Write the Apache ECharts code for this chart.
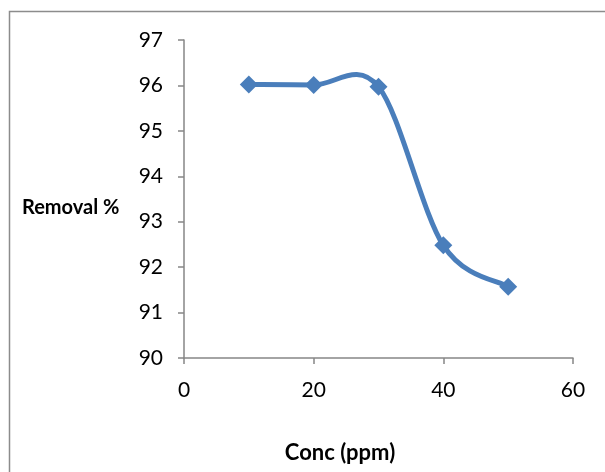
<!DOCTYPE html>
<html>
<head>
<meta charset="utf-8">
<script src="https://cdn.jsdelivr.net/npm/echarts@6/dist/echarts.min.js"></script>
<style>
  html, body { margin: 0; padding: 0; background: #fff; }
  #chart { width: 605px; height: 472px; }
</style>
</head>
<body>
<div id="chart"></div>
<script>
// Removal efficiency versus initial concentration
const concPpm = [10, 20, 30, 40, 50];
const removalPct = [96.02, 96.01, 95.97, 92.48, 91.57];

const xTicks = { min: 0, max: 60, interval: 20 };
const yTicks = { min: 90, max: 97, interval: 1 };

const axisColor = '#868686';
const seriesColor = '#4a7ebb';
const fontFamily = 'Lato, "Liberation Sans", sans-serif';

const chart = echarts.init(document.getElementById('chart'), null, { renderer: 'canvas' });

// Catmull-Rom style smoothing in pixel space: one cubic segment per data pair
function renderSegment(params, api) {
  const i = params.dataIndex;
  const n = concPpm.length;
  if (i >= n - 1) return null;
  const pt = k => {
    const j = Math.max(0, Math.min(n - 1, k));
    return api.coord([concPpm[j], removalPct[j]]);
  };
  const p0 = pt(i - 1), p1 = pt(i), p2 = pt(i + 1), p3 = pt(i + 2);
  const c1 = [p1[0] + (p2[0] - p0[0]) / 6, p1[1] + (p2[1] - p0[1]) / 6];
  const c2 = [p2[0] - (p3[0] - p1[0]) / 6, p2[1] - (p3[1] - p1[1]) / 6];
  return {
    type: 'bezierCurve',
    shape: { x1: p1[0], y1: p1[1], cpx1: c1[0], cpy1: c1[1], cpx2: c2[0], cpy2: c2[1], x2: p2[0], y2: p2[1] },
    style: { stroke: seriesColor, lineWidth: 5, fill: null, lineCap: 'round' }
  };
}

const points = concPpm.map((c, i) => [c, removalPct[i]]);

chart.setOption({
  backgroundColor: '#fff',
  animation: false,
  grid: { left: 184, right: 32, top: 40, bottom: 114, containLabel: false },
  xAxis: {
    type: 'value',
    min: xTicks.min, max: xTicks.max, interval: xTicks.interval,
    axisLine: { lineStyle: { color: axisColor, width: 1.5 } },
    axisTick: { show: true, length: 6, lineStyle: { color: axisColor, width: 1.5 } },
    axisLabel: { fontFamily, fontSize: 21, color: '#000', margin: 22 },
    splitLine: { show: false }
  },
  yAxis: {
    type: 'value',
    min: yTicks.min, max: yTicks.max, interval: yTicks.interval,
    axisLine: { show: true, lineStyle: { color: axisColor, width: 1.5 } },
    axisTick: { show: true, length: 6, lineStyle: { color: axisColor, width: 1.5 } },
    axisLabel: { fontFamily, fontSize: 21, color: '#000', margin: 21 },
    splitLine: { show: false }
  },
  graphic: [
    {
      type: 'rect',
      shape: { x: 9.5, y: 11.5, width: 700, height: 700 },
      style: { fill: 'none', stroke: '#8c8c8c', lineWidth: 1.5 },
      z: -1
    },
    {
      type: 'text',
      x: 22, y: 208,
      style: { text: 'Removal %', font: 'bold 20px ' + fontFamily, fill: '#000', textVerticalAlign: 'middle' }
    },
    {
      type: 'text',
      x: 340, y: 453,
      style: { text: 'Conc (ppm)', font: 'bold 22px ' + fontFamily, fill: '#000', textAlign: 'center', textVerticalAlign: 'middle' }
    }
  ],
  series: [
    {
      type: 'custom',
      renderItem: renderSegment,
      data: points,
      z: 2
    },
    {
      type: 'scatter',
      data: points,
      symbol: 'diamond',
      symbolSize: 18,
      itemStyle: { color: seriesColor, opacity: 1 },
      z: 3
    }
  ]
});
</script>
</body>
</html>
